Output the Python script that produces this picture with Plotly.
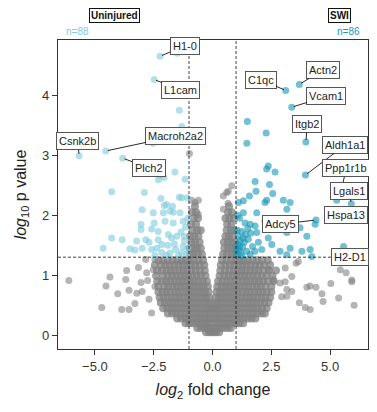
import plotly.graph_objects as go

# ---------------- data ----------------
# grey (non-significant) points: dense cloud given as rows of x values at one y level
grey_row_y = [0.05, 0.12, 0.20, 0.28, 0.36, 0.45, 0.54, 0.63, 0.72, 0.81, 0.90, 0.99, 1.08, 1.17, 1.25,
              1.35, 1.45, 1.55, 1.65, 1.75, 1.85, 1.95, 2.05, 2.15]
grey_row_x = [
    [-0.28, -0.15, -0.05, 0.05, 0.15, 0.28],
    [-0.65, -0.5, -0.35, -0.2, -0.08, 0.08, 0.2, 0.35, 0.5, 0.65, 0.78],
    [-1.15, -1.0, -0.85, -0.7, -0.55, -0.4, -0.25, -0.12, 0.12, 0.25, 0.4, 0.55, 0.7, 0.85, 1.0, 1.15, 1.3],
    [-1.5, -1.33, -1.16, -1.0, -0.83, -0.66, -0.5, -0.34, -0.2, -0.08, 0.08, 0.2, 0.34, 0.5, 0.66, 0.83, 1.0,
     1.16, 1.33, 1.5, 1.66, 1.82],
    [-1.9, -1.72, -1.55, -1.38, -1.2, -1.03, -0.86, -0.7, -0.53, -0.37, -0.22, -0.1, 0.1, 0.22, 0.37, 0.53, 0.7,
     0.86, 1.03, 1.2, 1.38, 1.55, 1.72, 1.9, 2.08, 2.22],
    [-2.1, -1.93, -1.76, -1.6, -1.43, -1.27, -1.1, -0.94, -0.78, -0.62, -0.46, -0.3, -0.16, -0.05, 0.05, 0.16,
     0.3, 0.46, 0.62, 0.78, 0.94, 1.1, 1.27, 1.43, 1.6, 1.76, 1.93, 2.1, 2.3],
    [-2.2, -2.02, -1.85, -1.68, -1.52, -1.35, -1.18, -1.02, -0.86, -0.7, -0.54, -0.38, -0.23, -0.1, 0.1, 0.23,
     0.38, 0.54, 0.7, 0.86, 1.02, 1.18, 1.35, 1.52, 1.68, 1.85, 2.02, 2.2, 2.38],
    [-2.25, -2.08, -1.9, -1.73, -1.56, -1.4, -1.23, -1.06, -0.9, -0.74, -0.58, -0.43, -0.28, -0.14, 0.14, 0.28,
     0.43, 0.58, 0.74, 0.9, 1.06, 1.23, 1.4, 1.56, 1.73, 1.9, 2.08, 2.25, 2.45],
    [-2.3, -2.12, -1.95, -1.78, -1.6, -1.44, -1.27, -1.1, -0.94, -0.78, -0.62, -0.47, -0.32, -0.17, 0.17, 0.32,
     0.47, 0.62, 0.78, 0.94, 1.1, 1.27, 1.44, 1.6, 1.78, 1.95, 2.12, 2.3, 2.5],
    [-2.3, -2.05, -1.88, -1.7, -1.52, -1.35, -1.18, -1.02, -0.86, -0.7, -0.54, -0.38, -0.2, 0.2, 0.38, 0.54,
     0.7, 0.86, 1.02, 1.18, 1.35, 1.52, 1.7, 1.88, 2.05, 2.25, 2.5],
    [-2.35, -2.15, -1.97, -1.8, -1.62, -1.45, -1.28, -1.1, -0.94, -0.77, -0.6, -0.42, -0.24, 0.24, 0.42, 0.6,
     0.77, 0.94, 1.1, 1.28, 1.45, 1.62, 1.8, 1.97, 2.15, 2.35, 2.6],
    [-2.4, -2.1, -1.9, -1.72, -1.54, -1.37, -1.2, -1.03, -0.86, -0.68, -0.5, -0.3, 0.3, 0.5, 0.68, 0.86, 1.03,
     1.2, 1.37, 1.54, 1.72, 1.9, 2.1, 2.3, 2.55],
    [-2.35, -2.15, -1.95, -1.78, -1.6, -1.42, -1.25, -1.08, -0.9, -0.72, -0.53, -0.33, 0.33, 0.53, 0.72, 0.9,
     1.08, 1.25, 1.42, 1.6, 1.78, 1.95, 2.15, 2.4, 2.7],
    [-2.45, -2.2, -2.0, -1.82, -1.63, -1.45, -1.27, -1.1, -0.92, -0.74, -0.55, -0.35, 0.35, 0.55, 0.74, 0.92,
     1.1, 1.27, 1.45, 1.63, 1.82, 2.0, 2.2, 2.45],
    [-2.3, -2.1, -1.9, -1.7, -1.5, -1.32, -1.15, -0.97, -0.8, -0.6, -0.4, 0.4, 0.6, 0.8, 0.97, 1.15, 1.32, 1.5,
     1.7, 1.9, 2.1, 2.35],
    [-0.95, -0.8, -0.62, -0.45, 0.45, 0.62, 0.8, 0.95],
    [-0.97, -0.82, -0.66, -0.5, 0.5, 0.66, 0.82, 0.97],
    [-0.9, -0.75, -0.55, 0.48, 0.65, 0.8, 0.95],
    [-0.95, -0.78, -0.6, 0.55, 0.7, 0.85],
    [-0.85, -0.65, -0.5, 0.6, 0.78, 0.92],
    [-0.92, -0.7, 0.62, 0.8],
    [-0.8, -0.62, 0.55, 0.72, 0.9],
    [-0.88, -0.7, 0.66, 0.82],
    [-0.75, 0.7],
]
# scattered grey points
grey_extra_x = [-6.11, -4.36, -4.53, -4.03, -4.71, -3.86, -3.55, -3.69, -3.65, -3.55, -3.30, -3.22, -3.15,
                -3.04, -2.99, -2.80, -2.76, -2.59, -2.70, -2.45, -2.52, -2.84, -2.45,
                4.15, 4.40, 5.03, 4.65, 4.70, 5.36, 6.02, 5.43, 5.68, 5.92, 3.69, 3.94, 4.15, 3.16, 3.37,
                3.55, 3.65, 3.09, 3.37, 2.94, 2.59, 2.37, 2.87, 3.09, 4.01, 5.92, 3.16,
                -0.98, -0.89, -0.60, -0.74, -0.60, 0.60, 0.46, 0.66, 0.82, 0.67, 0.46]
grey_extra_y = [0.91, 0.97, 0.82, 0.69, 0.46, 0.43, 0.43, 0.93, 1.08, 0.75, 0.53, 0.70, 1.13,
                0.88, 0.73, 1.04, 0.91, 0.37, 0.60, 0.81, 1.09, 1.26, 1.26,
                0.82, 0.80, 0.86, 0.69, 0.56, 0.62, 0.50, 1.09, 1.04, 0.92, 0.54, 0.46, 0.43, 0.76, 0.73,
                1.20, 1.23, 1.12, 0.98, 0.64, 0.92, 1.09, 0.87, 0.89, 0.80, 0.89, 0.65,
                3.03, 2.25, 2.25, 2.21, 2.01, 2.38, 2.10, 2.20, 2.49, 2.40, 2.32]

# Uninjured (down) significant genes
uninj_x = [-2.23, -2.48, -4.54, -5.67, -3.82,
           -1.50, -1.41, -1.31, -2.54, -1.60, -2.30, -2.06, -2.23, -1.17, -4.29, -2.90, -1.41, -1.07, -1.95, -1.70,
           -2.19, -1.31, -2.05, -2.99,
           -2.52, -2.09, -1.81, -1.67, -1.38,
           -3.04, -2.48, -2.02, -1.67,
           -3.04, -2.59, -2.31, -1.88, -1.34, -1.20,
           -4.29, -3.84, -3.23, -2.84, -2.70, -2.31, -2.16, -1.74, -1.52, -1.20,
           -4.65, -3.51, -3.30, -2.99, -2.59, -2.37, -2.16, -1.81, -1.57, -1.31,
           -1.95, -1.45, -1.10, -1.05, -1.25, -1.90, -2.45, -1.62, -1.15, -1.05, -1.25]
uninj_y = [4.65, 4.26, 3.07, 2.99, 2.95,
           4.70, 3.75, 3.48, 3.20, 2.72, 2.59, 2.63, 2.66, 2.60, 2.39, 2.38, 2.30, 2.29, 2.18, 2.15,
           2.28, 2.29, 2.16, 2.09,
           2.04, 2.04, 2.07, 2.05, 2.04,
           1.85, 1.87, 1.90, 1.87,
           1.76, 1.77, 1.73, 1.68, 1.72, 1.65,
           1.62, 1.59, 1.57, 1.59, 1.55, 1.59, 1.51, 1.62, 1.65, 1.57,
           1.45, 1.44, 1.42, 1.45, 1.43, 1.45, 1.38, 1.37, 1.43, 1.38,
           1.33, 1.33, 1.35, 1.45, 1.48, 1.50, 1.33, 1.52, 1.80, 1.95, 1.90]
uninj_genes = ["H1-0", "L1cam", "Macroh2a2", "Csnk2b", "Plch2"]

# SWI (up) significant genes
swi_x = [3.69, 3.11, 3.37, 3.97, 3.95, 5.43, 5.90, 5.43, 4.40, 5.57,
         1.48, 2.28, 1.46, 2.37, 2.30, 2.66,
         1.81, 2.42, 1.85, 2.56, 2.30, 3.01, 1.57, 1.31, 1.10,
         1.31, 1.88, 2.23, 3.16, 3.30,
         1.38, 1.60, 1.81, 2.23, 2.66, 2.94, 3.72,
         1.24, 1.88, 2.37, 3.16, 4.01, 4.36,
         2.09, 2.52, 2.87, 3.30, 4.15, 3.16, 3.80, 4.22, 5.28,
         1.05, 1.12, 1.20, 1.28, 1.08, 1.18, 1.35, 1.45, 1.52, 1.10, 1.25, 1.60, 1.70, 1.40, 1.02, 1.15, 1.30,
         1.80, 1.95, 1.62, 1.50, 1.05, 1.15, 1.06]
swi_y = [4.18, 4.08, 3.80, 3.22, 2.67, 2.35, 2.19, 2.06, 1.92, 1.48,
         3.56, 3.37, 3.20, 2.82, 2.77, 2.72,
         2.56, 2.51, 2.40, 2.36, 2.25, 2.25, 2.32, 2.24, 2.21,
         2.04, 2.04, 2.21, 2.10, 2.21,
         1.87, 1.85, 1.82, 1.90, 1.85, 1.76, 1.79,
         1.73, 1.71, 1.62, 1.71, 1.65, 1.85,
         1.43, 1.51, 1.40, 1.45, 1.43, 1.34, 1.40, 1.31, 2.25,
         1.35, 1.42, 1.38, 1.47, 1.52, 1.58, 1.55, 1.40, 1.60, 1.65, 1.32, 1.35, 1.48, 1.68, 1.45, 1.48, 1.62,
         1.40, 1.55, 1.70, 1.78, 1.75, 1.95, 2.00]
swi_genes = ["Actn2", "C1qc", "Vcam1", "Itgb2", "Aldh1a1", "Ppp1r1b", "Lgals1", "Hspa13", "Adcy5", "H2-D1"]

group_names = ["Uninjured", "SWI"]
group_counts = [88, 86]
fc_threshold = 1.0
p_threshold = 1.3

# ---------------- styling / label placement ----------------
label_pos = {
    "H1-0": (-1.19, 4.82), "L1cam": (-1.35, 4.09), "Macroh2a2": (-1.56, 3.32), "Csnk2b": (-5.73, 3.23),
    "Plch2": (-2.71, 2.79), "Actn2": (4.69, 4.42), "C1qc": (2.04, 4.26), "Vcam1": (4.84, 3.98),
    "Itgb2": (4.03, 3.52), "Aldh1a1": (5.64, 3.17), "Ppp1r1b": (5.69, 2.78), "Lgals1": (5.80, 2.40),
    "Hspa13": (5.67, 2.00), "Adcy5": (2.87, 1.85), "H2-D1": (5.85, 1.31),
}
GREY = "#808080"
LIGHT = "#7fcbdc"
TEAL = "#1a9ab8"
FONT = "Arial, Liberation Sans, sans-serif"

gx, gy = [], []
for yv, xs in zip(grey_row_y, grey_row_x):
    gx.extend(xs)
    gy.extend([yv] * len(xs))

fig = go.Figure()
fig.add_trace(go.Scatter(x=gx, y=gy, mode="markers",
                         marker=dict(size=8, color=GREY, opacity=0.75, line=dict(width=0)),
                         hoverinfo="skip"))
fig.add_trace(go.Scatter(x=grey_extra_x, y=grey_extra_y, mode="markers",
                         marker=dict(size=7, color=GREY, opacity=0.58, line=dict(width=0)),
                         hoverinfo="skip"))
fig.add_trace(go.Scatter(x=uninj_x, y=uninj_y, mode="markers",
                         marker=dict(size=7, color=LIGHT, opacity=0.6, line=dict(width=0))))
fig.add_trace(go.Scatter(x=swi_x, y=swi_y, mode="markers",
                         marker=dict(size=7, color=TEAL, opacity=0.62, line=dict(width=0))))

annotations = []
for genes, xs, ys in ((uninj_genes, uninj_x, uninj_y), (swi_genes, swi_x, swi_y)):
    for i, g in enumerate(genes):
        lx, ly = label_pos[g]
        annotations.append(dict(
            x=xs[i], y=ys[i], xref="x", yref="y", ax=lx, ay=ly, axref="x", ayref="y",
            text=g, showarrow=True, arrowhead=0, arrowwidth=0.9, arrowcolor="#111111",
            standoff=2, font=dict(family=FONT, size=11, color="#222222"),
            bgcolor="white", bordercolor="#555555", borderwidth=1, borderpad=2))

# group headers
annotations += [
    dict(x=0.10, y=1.079, xref="paper", yref="paper", yanchor="middle", text="<b>%s</b>" % group_names[0],
         showarrow=False, font=dict(family=FONT, size=10, color="#111111"),
         bgcolor="white", bordercolor="#111111", borderwidth=1, borderpad=1),
    dict(x=0.02, y=1.027, xref="paper", yref="paper", yanchor="middle", xanchor="left",
         text="n=%d" % group_counts[0], showarrow=False, font=dict(family=FONT, size=10, color=LIGHT)),
    dict(x=0.945, y=1.079, xref="paper", yref="paper", yanchor="middle", text="<b>%s</b>" % group_names[1],
         showarrow=False, font=dict(family=FONT, size=10, color="#111111"),
         bgcolor="white", bordercolor="#111111", borderwidth=1, borderpad=1),
    dict(x=0.98, y=1.027, xref="paper", yref="paper", yanchor="middle", xanchor="right",
         text="n=%d" % group_counts[1], showarrow=False, font=dict(family=FONT, size=10, color=TEAL)),
]

shapes = [
    dict(type="line", xref="x", yref="paper", x0=-fc_threshold, x1=-fc_threshold, y0=0, y1=1,
         line=dict(color="#111111", width=0.8, dash="3px,2px"), layer="above"),
    dict(type="line", xref="x", yref="paper", x0=fc_threshold, x1=fc_threshold, y0=0, y1=1,
         line=dict(color="#111111", width=0.8, dash="3px,2px"), layer="above"),
    dict(type="line", xref="paper", yref="y", x0=0, x1=1, y0=p_threshold, y1=p_threshold,
         line=dict(color="#111111", width=0.8, dash="3px,2px"), layer="above"),
]

axis_common = dict(showgrid=False, zeroline=False, showline=True, linecolor="#333333", linewidth=1.3,
                   mirror=True, ticks="outside", ticklen=5, tickwidth=1.2, tickcolor="#333333",
                   tickfont=dict(family=FONT, size=13, color="#333333"))

fig.update_layout(
    width=361, height=396,
    margin=dict(l=50, r=1, t=32, b=55),
    paper_bgcolor="white", plot_bgcolor="white",
    showlegend=False,
    font=dict(family=FONT),
    xaxis=dict(range=[-6.57, 6.61], tickvals=[-5, -2.5, 0, 2.5, 5], tickformat=".1f",
               title=dict(text="<i>log</i><sub>2</sub> fold change", standoff=11,
                          font=dict(family=FONT, size=16, color="#222222")), **axis_common),
    yaxis=dict(range=[-0.23, 4.92], tickvals=[0, 1, 2, 3, 4],
               title=dict(text="<i>log</i><sub>10</sub> p value", standoff=11,
                          font=dict(family=FONT, size=16, color="#222222")), **axis_common),
    annotations=annotations,
    shapes=shapes,
)

fig.write_html("out.html")
